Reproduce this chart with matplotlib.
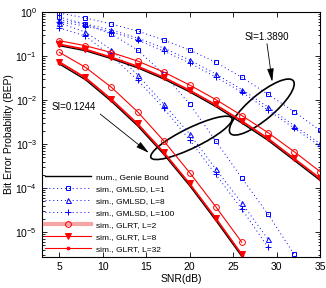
import numpy as np
import matplotlib
matplotlib.use("Agg")
import matplotlib.pyplot as plt
import matplotlib.transforms as mtransforms
from matplotlib.lines import Line2D
from matplotlib.patches import Ellipse
from matplotlib.ticker import LogLocator, NullFormatter

plt.rcParams["font.family"] = ["Liberation Sans", "DejaVu Sans"]

# SNR grids (dB)
snr_lo = [5, 8, 11, 14, 17, 20, 23, 26]            # SI = 0.1244, GLRT / genie
snr_hi = [5, 8, 11, 14, 17, 20, 23, 26, 29, 32, 35]  # SI = 1.3890
snr_gm_lo_l1 = [5, 8, 11, 14, 17, 20, 23, 26, 29, 32]
snr_gm_lo_l8 = [5, 8, 11, 14, 17, 20, 23, 26, 29]

# SI = 0.1244 curves
genie_lo = [0.066, 0.029, 0.0093, 0.0026, 5.9e-4, 1.13e-4, 1.85e-5, 2.8e-6]
glrt2_lo = [0.1214, 0.0554, 0.0194, 0.00542, 0.00119, 2.23e-4, 3.76e-5, 5.83e-6]
glrt8_lo = [0.0742, 0.0328, 0.01054, 0.00295, 6.68e-4, 1.28e-4, 2.11e-5, 3.16e-6]
glrt32_lo = [0.0705, 0.0312, 0.0100, 0.0028, 6.3e-4, 1.21e-4, 2.0e-5, 3.0e-6]
gm1_lo = [0.769, 0.534, 0.316, 0.137, 0.039, 0.0081, 0.00117, 1.69e-4, 2.57e-5, 3.16e-6]
gm8_lo = [0.562, 0.351, 0.139, 0.0376, 0.0081, 0.00169, 2.70e-4, 4.56e-5, 6.93e-6]
gm100_lo = [0.433, 0.285, 0.1, 0.0285, 0.00658, 0.00123, 2.03e-4, 3.33e-5, 4.56e-6]

# SI = 1.3890 curves
genie_hi = [0.172, 0.132, 0.087, 0.054, 0.0302, 0.0153, 0.0071, 0.0030, 0.00122, 4.3e-4, 1.5e-4]
glrt2_hi = [0.223, 0.171, 0.120, 0.0769, 0.0433, 0.0219, 0.01026, 0.00444, 0.00182, 6.76e-4, 2.37e-4]
glrt8_hi = [0.187, 0.144, 0.0949, 0.0593, 0.0333, 0.0169, 0.00791, 0.00339, 0.00137, 4.81e-4, 1.69e-4]
glrt32_hi = [0.180, 0.139, 0.091, 0.057, 0.032, 0.0162, 0.0076, 0.00325, 0.00131, 4.6e-4, 1.62e-4]
gm1_hi = [0.948, 0.731, 0.534, 0.370, 0.231, 0.137, 0.0719, 0.0328, 0.01355, 0.00548, 0.00203]
gm8_hi = [0.658, 0.534, 0.390, 0.257, 0.152, 0.0811, 0.039, 0.01733, 0.00693, 0.00263, 0.00103]
gm100_hi = [0.593, 0.481, 0.351, 0.231, 0.130, 0.0693, 0.0333, 0.0152, 0.00593, 0.00231, 9.0e-4]

labels = ["num., Genie Bound", "sim., GMLSD, L=1", "sim., GMLSD, L=8",
          "sim., GMLSD, L=100", "sim., GLRT, L=2", "sim., GLRT, L=8", "sim., GLRT, L=32"]

fig = plt.figure(figsize=(3.26, 2.88), dpi=100)
ax = fig.add_axes([0.1288, 0.1087, 0.8528, 0.8496])

blue = "#0000ff"
red = "#ff0000"
bl_kw = dict(color=blue, ls=(0, (1, 3)), lw=0.7, mfc="none", mew=0.7)
rd_kw = dict(color=red, ls="-", lw=0.8, mew=0.7)

# blue GMLSD curves
ax.semilogy(snr_gm_lo_l1, gm1_lo, marker="s", ms=3.2, **bl_kw)
ax.semilogy(snr_gm_lo_l8, gm8_lo, marker="^", ms=3.6, **bl_kw)
ax.semilogy(snr_gm_lo_l8, gm100_lo, marker="+", ms=4.0, **bl_kw)
ax.semilogy(snr_hi, gm1_hi, marker="s", ms=3.2, **bl_kw)
ax.semilogy(snr_hi, gm8_hi, marker="^", ms=3.6, **bl_kw)
ax.semilogy(snr_hi, gm100_hi, marker="+", ms=4.0, **bl_kw)

# genie bound
ax.semilogy(snr_lo, genie_lo, color="k", lw=1.0)
ax.semilogy(snr_hi, genie_hi, color="k", lw=1.0)

# red GLRT curves
for s, a, b, c in [(snr_lo, glrt2_lo, glrt8_lo, glrt32_lo), (snr_hi, glrt2_hi, glrt8_hi, glrt32_hi)]:
    ax.semilogy(s, a, marker="o", ms=4.2, mfc="none", **rd_kw)
    ax.semilogy(s, b, marker="v", ms=3.8, mfc=red, **rd_kw)
    ax.semilogy(s, c, marker=".", ms=4.0, mfc=red, **rd_kw)

ax.set_xlim(3, 35)
ax.set_ylim(2.75e-6, 1)
ax.set_xticks([5, 10, 15, 20, 25, 30, 35])
ax.yaxis.set_major_locator(LogLocator(base=10, numticks=10))
ax.yaxis.set_minor_locator(LogLocator(base=10, subs=np.arange(2, 10), numticks=20))
ax.yaxis.set_minor_formatter(NullFormatter())
ax.tick_params(which="both", direction="in", top=True, right=True, labelsize=7.5, width=0.6)
ax.tick_params(which="major", length=3.5)
ax.tick_params(which="minor", length=1.8)
for sp in ax.spines.values():
    sp.set_linewidth(0.8)
ax.set_xlabel("SNR(dB)", fontsize=7.5, labelpad=2)
ax.set_ylabel("Bit Error Probability (BEP)", fontsize=7.5, labelpad=1)

# annotations: ellipses and arrows
def ellipse(xc, yc, w, h, ang):
    tr = fig.dpi_scale_trans + mtransforms.ScaledTranslation(xc, yc, ax.transData)
    ax.add_patch(Ellipse((0, 0), w, h, angle=ang, fill=False, ec="k", lw=1.2, transform=tr))

ellipse(20.2, 10 ** -2.86, 0.90, 0.20, 26)
ellipse(28.3, 10 ** -2.16, 0.82, 0.25, 40)

arr = dict(arrowstyle="-|>,head_length=0.8,head_width=0.2", color="k", lw=0.6, shrinkA=0, shrinkB=0)
ax.annotate("", xy=(15.3, 6.3e-4), xytext=(9.7, 4.8e-3), arrowprops=arr)
ax.annotate("", xy=(29.5, 0.026), xytext=(28.9, 0.19), arrowprops=arr)
ax.text(6.6, 6.9e-3, "SI=0.1244", fontsize=7, ha="center", va="center")
ax.text(28.9, 0.27, "SI=1.3890", fontsize=7, ha="center", va="center")

# legend with proxy handles
handles = [
    Line2D([], [], color="k", lw=1.0),
    Line2D([], [], marker="s", ms=3.2, **bl_kw),
    Line2D([], [], marker="^", ms=3.6, **bl_kw),
    Line2D([], [], marker="+", ms=4.0, **bl_kw),
    Line2D([], [], color="#f6a5a5", lw=3.0, marker="o", ms=4.2, mfc="none", mec=red, mew=0.7),
    Line2D([], [], marker="v", ms=3.8, mfc=red, **rd_kw),
    Line2D([], [], marker=".", ms=4.0, mfc=red, **rd_kw),
]
ax.legend(handles, labels, loc="lower left", frameon=False, fontsize=6,
          handlelength=5.5, handletextpad=0.6, labelspacing=0.5,
          borderaxespad=0.2, borderpad=0.2)

fig.savefig("out.png", dpi=100)
